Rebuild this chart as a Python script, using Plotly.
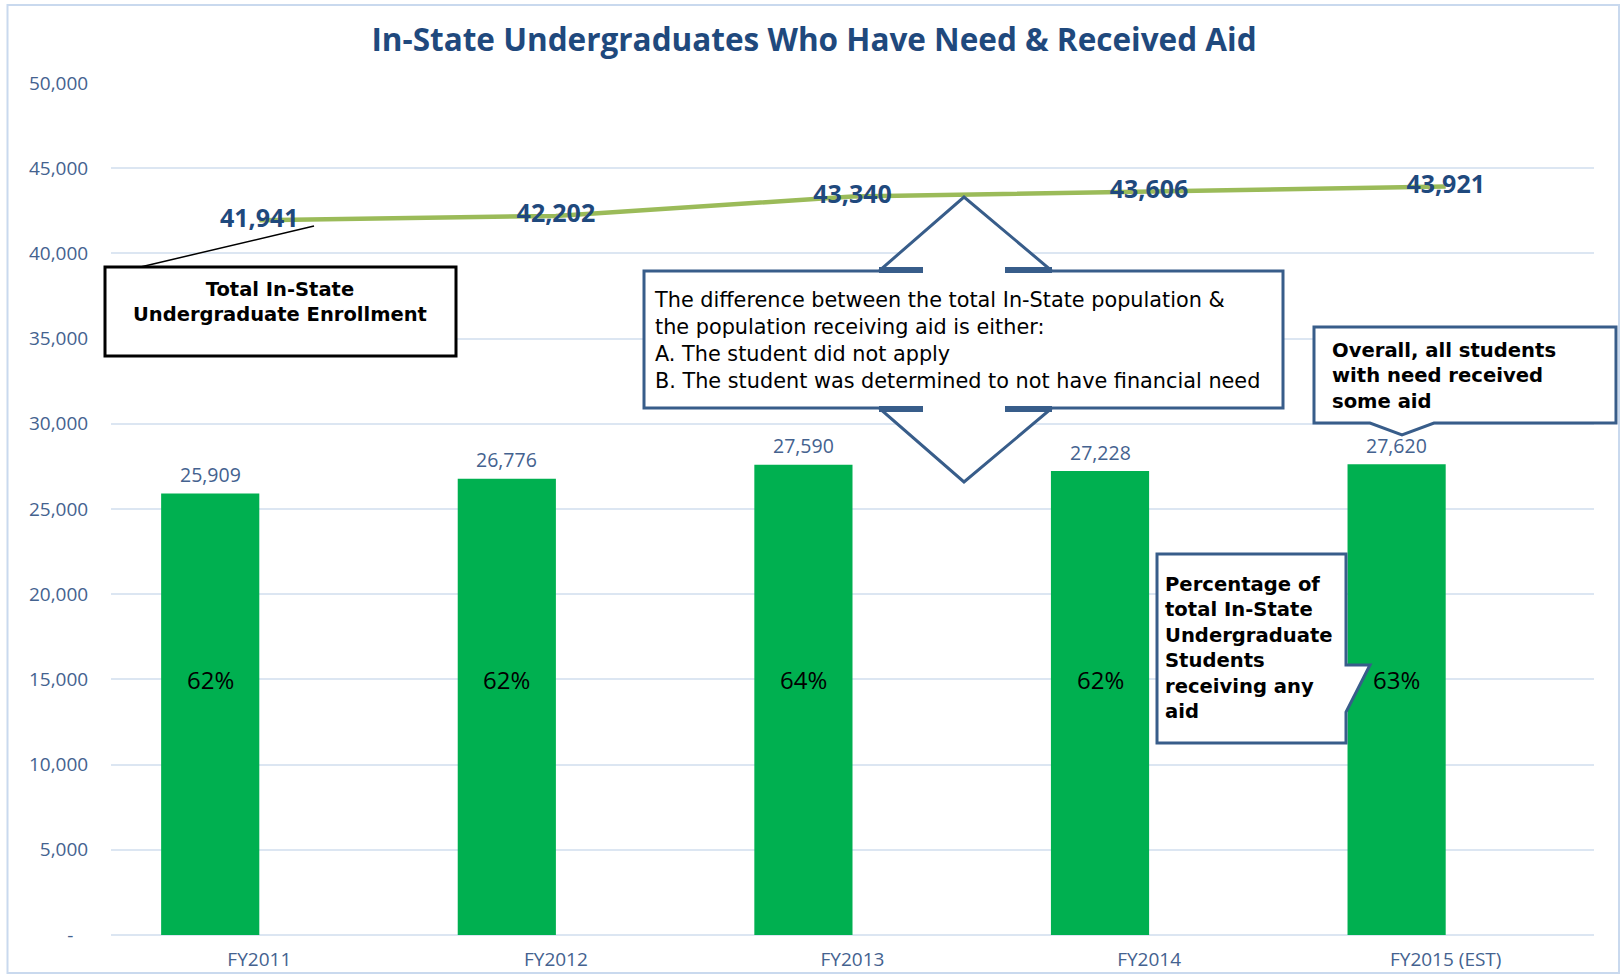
import plotly.graph_objects as go

# ---------------- data ----------------
categories = ["FY2011", "FY2012", "FY2013", "FY2014", "FY2015 (EST)"]
aid_recipients = [25909, 26776, 27590, 27228, 27620]
total_enrollment = [41941, 42202, 43340, 43606, 43921]
pct_labels = ["62%", "62%", "64%", "62%", "63%"]
ytick_vals = [0, 5000, 10000, 15000, 20000, 25000, 30000, 35000, 40000, 45000, 50000]
ytick_text = ["-\u00a0\u00a0\u00a0", "5,000", "10,000", "15,000", "20,000", "25,000",
              "30,000", "35,000", "40,000", "45,000", "50,000"]

# ---------------- layout geometry (pixels) ----------------
W, H = 1623, 976
L, R, T, B = 111, 1594, 83, 935
FONT = "Open Sans"
BOX_FONT = "DejaVu Sans"
AXIS_COL = "#44628F"
DARK_BLUE = "#1F497D"
BOX_COL = "#385D8A"
BAR_W = 0.331
BAR_SHIFT = -BAR_W / 2 * (R - L) / len(categories)


def px(x):
    return (x - L) / (R - L)


def py(y):
    return (B - y) / (B - T)


def path(points):
    return "M " + " L ".join(f"{px(x):.5f},{py(y):.5f}" for x, y in points) + " Z"


fig = go.Figure()

fig.add_trace(go.Bar(
    x=categories, y=aid_recipients, width=BAR_W, offset=-BAR_W,
    marker=dict(color="#00B050", line=dict(width=0)),
    hoverinfo="x+y", showlegend=False,
))

fig.add_trace(go.Scatter(
    x=categories, y=total_enrollment, mode="lines+text",
    line=dict(color="#9BBB59", width=4.5),
    text=[f"{v:,}" for v in total_enrollment], textposition="middle center",
    textfont=dict(family=FONT, size=25, color=DARK_BLUE, weight="bold"),
    showlegend=False,
))

annotations = []
for c, v in zip(categories, aid_recipients):
    annotations.append(dict(x=c, y=v, xref="x", yref="y", text=f"{v:,}", showarrow=False,
                            xshift=BAR_SHIFT, yshift=19, yanchor="middle",
                            font=dict(family=FONT, size=19.5, color=AXIS_COL)))
for c, t in zip(categories, pct_labels):
    annotations.append(dict(x=c, y=15000, xref="x", yref="y", text=t, showarrow=False,
                            xshift=BAR_SHIFT, yanchor="middle",
                            font=dict(family=FONT, size=24, color="black")))


def text_block(lines, x, y, anchor, size, bold):
    inner = "<br>".join(lines)
    if bold:
        inner = f"<b>{inner}</b>"
    return dict(x=px(x), y=py(y), xref="paper", yref="paper", showarrow=False,
                xanchor=anchor, yanchor="middle", align=anchor,
                text=inner, borderpad=0,
                font=dict(family=BOX_FONT, size=size, color="black"))


annotations += [
    text_block(["Total In-State", "Undergraduate Enrollment"], 280, 302, "center", 19.5, True),
    text_block(["The difference between the total In-State population &amp;",
                "the population receiving aid is either:",
                "A. The student did not apply",
                "B. The student was determined to not have financial need"],
               653, 340, "left", 20.8, False),
    text_block(["Overall, all students", "with need received", "some aid"],
               1331, 375.5, "left", 19.6, True),
    text_block(["Percentage of", "total In-State", "Undergraduate", "Students",
                "receiving any", "aid"], 1164, 648, "left", 19.6, True),
]

shapes = [
    # outer chart border
    dict(type="rect", xref="paper", yref="paper", x0=px(7.5), x1=px(1619), y0=py(973), y1=py(5),
         line=dict(color="#C9D9EE", width=2), fillcolor="rgba(0,0,0,0)", layer="below"),
    # total enrollment box + leader
    dict(type="line", xref="paper", yref="paper", x0=px(132), y0=py(269), x1=px(314), y1=py(226),
         line=dict(color="black", width=1.5)),
    dict(type="rect", xref="paper", yref="paper", x0=px(105), x1=px(456), y0=py(356), y1=py(267),
         line=dict(color="black", width=3), fillcolor="white"),
    # up-down arrow callout
    dict(type="path", xref="paper", yref="paper",
         path=path([(644, 271), (923, 271), (879, 271), (964, 197), (1052, 271), (1005, 271),
                    (1283, 271), (1283, 408), (1005, 408), (1052, 408), (964, 482), (879, 408),
                    (923, 408), (644, 408)]),
         line=dict(color=BOX_COL, width=3), fillcolor="white"),
    # overall callout
    dict(type="path", xref="paper", yref="paper",
         path=path([(1314, 327), (1616, 327), (1616, 423), (1434, 423), (1402, 435),
                    (1370, 423), (1314, 423)]),
         line=dict(color=BOX_COL, width=3), fillcolor="white"),
    # percentage callout
    dict(type="path", xref="paper", yref="paper",
         path=path([(1157, 554), (1346, 554), (1346, 665), (1370, 665), (1346, 712),
                    (1346, 743), (1157, 743)]),
         line=dict(color=BOX_COL, width=3), fillcolor="white"),
]
for (xa, xb) in [(879, 923), (1005, 1052)]:
    for yy in (270, 409):
        shapes.append(dict(type="line", xref="paper", yref="paper", x0=px(xa), x1=px(xb),
                           y0=py(yy), y1=py(yy), line=dict(color=BOX_COL, width=6)))

fig.update_layout(
    width=W, height=H,
    margin=dict(l=L, r=W - R, t=T, b=H - B, autoexpand=False),
    paper_bgcolor="white", plot_bgcolor="white",
    font=dict(family=FONT),
    title=dict(text="<b>In-State Undergraduates Who Have Need &amp; Received Aid</b>",
               x=814 / W, xanchor="center", y=1 - 40 / H, yanchor="middle",
               font=dict(family=FONT, size=31.5, color=DARK_BLUE)),
    xaxis=dict(type="category", range=[-0.5, 4.5], showgrid=False, zeroline=False, showline=False,
               ticks="outside", ticklen=7, tickcolor="rgba(0,0,0,0)",
               tickfont=dict(family=FONT, size=19, color=AXIS_COL)),
    yaxis=dict(range=[0, 50000], tickvals=ytick_vals, ticktext=ytick_text,
               showgrid=True, gridcolor="#DCE6F2", gridwidth=1.5,
               zeroline=True, zerolinecolor="#DCE6F2", zerolinewidth=1.5, showline=False,
               ticks="outside", ticklen=18, tickcolor="rgba(0,0,0,0)",
               tickfont=dict(family=FONT, size=19, color=AXIS_COL)),
    annotations=annotations,
    shapes=shapes,
    bargap=0.34,
)

fig.write_html("out.html")
